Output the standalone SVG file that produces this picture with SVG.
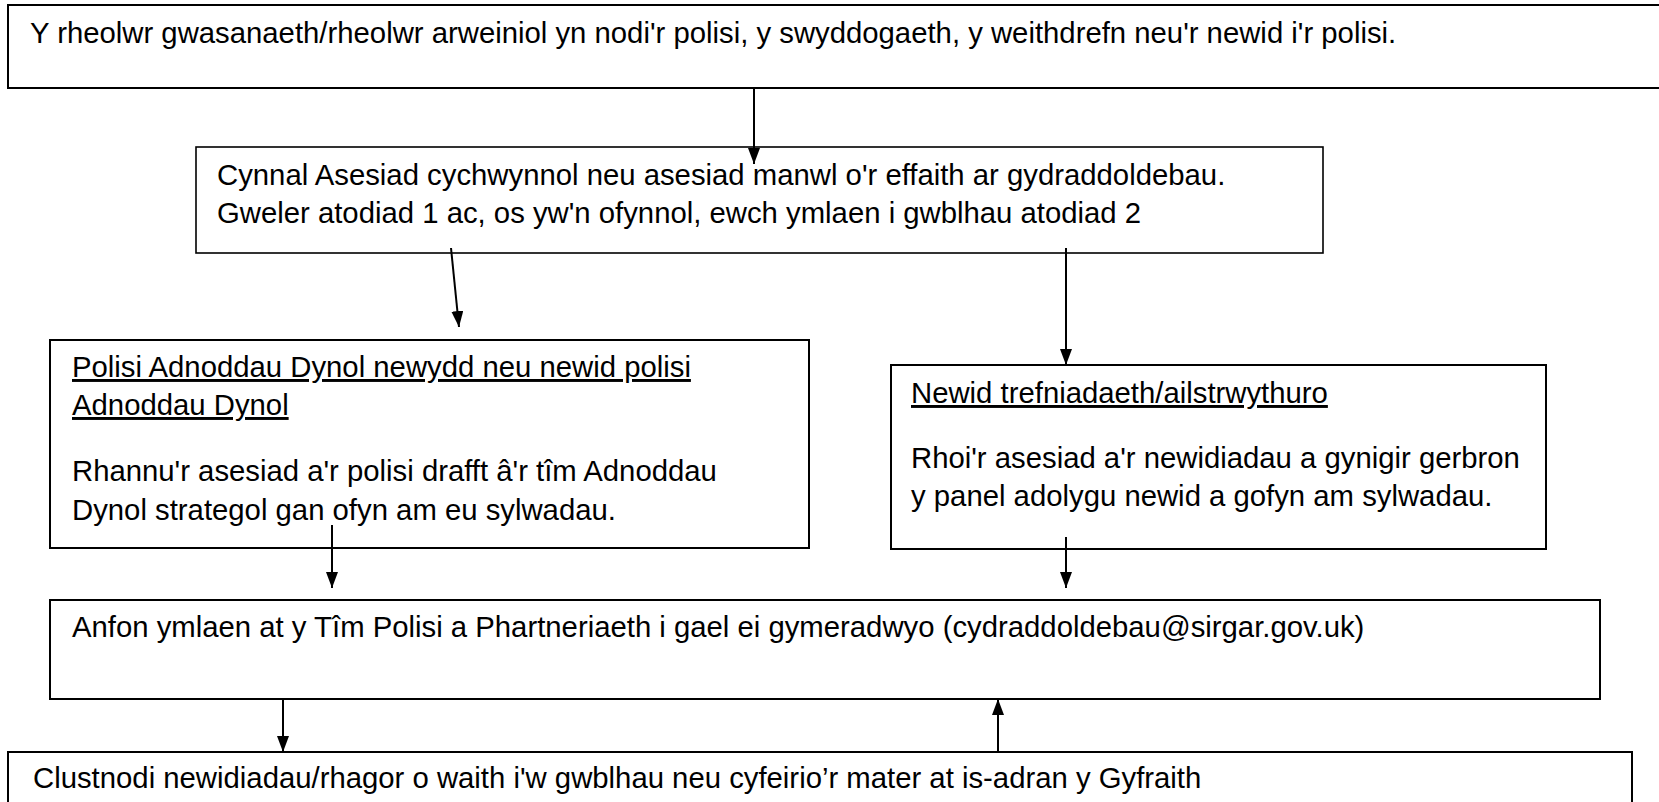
<svg xmlns="http://www.w3.org/2000/svg" width="1659" height="802" viewBox="0 0 1659 802">
<style>
.box{fill:#fff;stroke:#000;stroke-width:2}
.t{font-family:"Liberation Sans",Arial,sans-serif;font-size:29.3px;fill:#000}
.u{text-decoration:underline}
.c{stroke:#000;stroke-width:2;fill:none}
</style>
<defs>
<marker id="ah" markerUnits="userSpaceOnUse" markerWidth="16" markerHeight="12" refX="16" refY="6" orient="auto">
<path d="M0,0 L16,6 L0,12 z" fill="#000"/>
</marker>
</defs>
<rect width="1659" height="802" fill="#fff"/>
<g id="n1">
<rect class="box" x="8" y="5" width="1662" height="83"/>
<text class="t" x="30" y="43">Y rheolwr gwasanaeth/rheolwr arweiniol yn nodi'r polisi, y swyddogaeth, y weithdrefn neu'r newid i'r polisi.</text>
</g>
<g id="n2">
<rect class="box" x="196" y="147" width="1127" height="106" style="stroke-width:1.6"/>
<text class="t" x="217" y="185">Cynnal Asesiad cychwynnol neu asesiad manwl o'r effaith ar gydraddoldebau.</text>
<text class="t" x="217" y="223">Gweler atodiad 1 ac, os yw'n ofynnol, ewch ymlaen i gwblhau atodiad 2</text>
</g>
<g id="n3">
<rect class="box" x="50" y="340" width="759" height="208"/>
<text class="t u" x="72" y="377">Polisi Adnoddau Dynol newydd neu newid polisi</text>
<text class="t u" x="72" y="415">Adnoddau Dynol</text>
<text class="t" x="72" y="481">Rhannu'r asesiad a'r polisi drafft â'r tîm Adnoddau</text>
<text class="t" x="72" y="520">Dynol strategol gan ofyn am eu sylwadau.</text>
</g>
<g id="n4">
<rect class="box" x="891" y="365" width="655" height="184"/>
<text class="t u" x="911" y="403">Newid trefniadaeth/ailstrwythuro</text>
<text class="t" x="911" y="468">Rhoi'r asesiad a'r newidiadau a gynigir gerbron</text>
<text class="t" x="911" y="506">y panel adolygu newid a gofyn am sylwadau.</text>
</g>
<g id="n5">
<rect class="box" x="50" y="600" width="1550" height="99"/>
<text class="t" x="72" y="637">Anfon ymlaen at y Tîm Polisi a Phartneriaeth i gael ei gymeradwyo (cydraddoldebau@sirgar.gov.uk)</text>
</g>
<g id="n6">
<rect class="box" x="8" y="752" width="1624" height="70"/>
<text class="t" x="33" y="788">Clustnodi newidiadau/rhagor o waith i'w gwblhau neu cyfeirio’r mater at is-adran y Gyfraith</text>
</g>
<g id="connectors">
<line class="c" x1="754" y1="88" x2="754" y2="164" marker-end="url(#ah)"/>
<line class="c" x1="451" y1="248" x2="459" y2="327" marker-end="url(#ah)"/>
<line class="c" x1="1066" y1="248" x2="1066" y2="365" marker-end="url(#ah)"/>
<line class="c" x1="332" y1="525" x2="332" y2="588" marker-end="url(#ah)"/>
<line class="c" x1="1066" y1="537" x2="1066" y2="588" marker-end="url(#ah)"/>
<line class="c" x1="283" y1="699" x2="283" y2="752" marker-end="url(#ah)"/>
<line class="c" x1="998" y1="752" x2="998" y2="699" marker-end="url(#ah)"/>
</g>
</svg>
